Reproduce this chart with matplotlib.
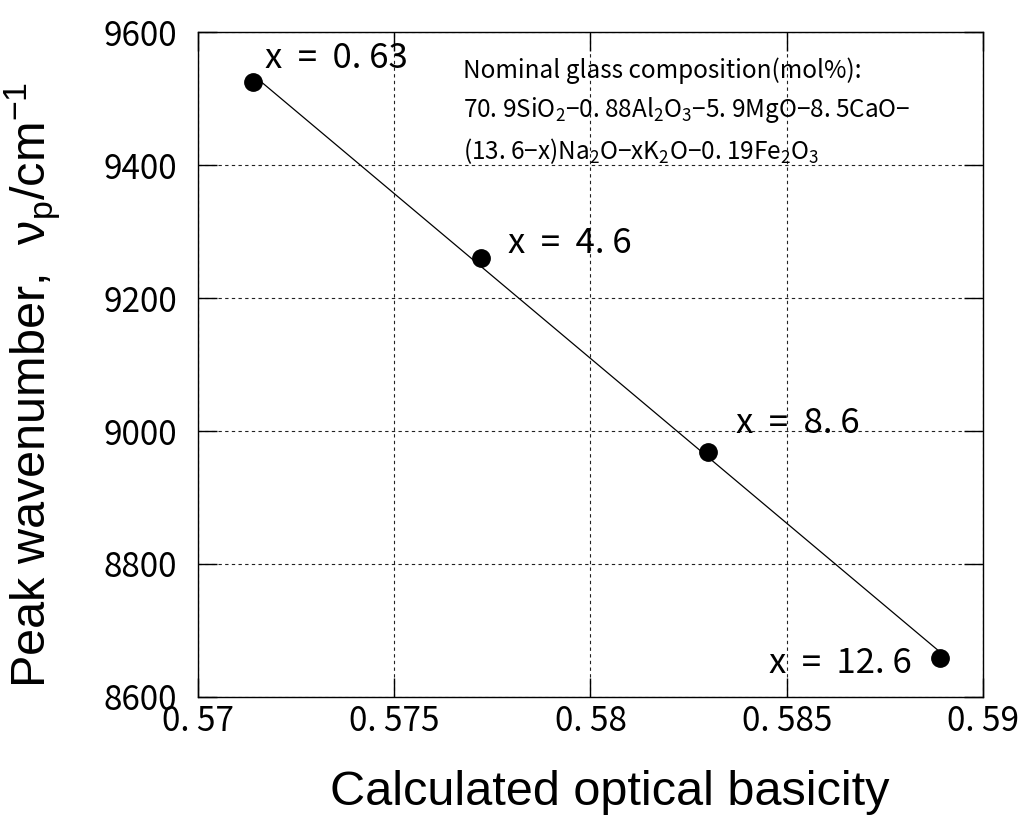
import numpy as np
import matplotlib.pyplot as plt

# data
basicity = np.array([0.5714, 0.5772, 0.5830, 0.5889])
wavenumber = np.array([9525, 9260, 8968, 8659])
k2o = ["0. 63", "4. 6", "8. 6", "12. 6"]

x_ticks = [0.57, 0.575, 0.58, 0.585, 0.59]
x_tick_labels = ["0. 57", "0. 575", "0. 58", "0. 585", "0. 59"]
y_ticks = [8600, 8800, 9000, 9200, 9400, 9600]

GOTHIC = ["Noto Sans CJK JP", "DejaVu Sans"]
REGULAR = ["Liberation Sans", "Noto Sans CJK JP", "DejaVu Sans"]
plt.rcParams["font.family"] = GOTHIC

fig = plt.figure(figsize=(10.22, 8.17), dpi=100)
ax = fig.add_axes([0.1937, 0.1469, 0.7681, 0.8139])

# regression line through the points
coef = np.polyfit(basicity, wavenumber, 1)
xx = np.array([basicity.min(), basicity.max()])
ax.plot(xx, np.polyval(coef, xx), color="black", lw=0.9, zorder=3)
ax.plot(basicity, wavenumber, "o", color="black", ms=12.5, zorder=4)

# labels next to each point (offsets in pixels)
offsets = [(12, 14, "left"), (27, 5, "left"), (28, 19, "left"), (-28, -15, "right")]
for xv, yv, lab, (dx, dy, ha) in zip(basicity, wavenumber, k2o, offsets):
    ax.annotate("x  =  " + lab, (xv, yv), xytext=(dx, dy), textcoords="offset pixels",
                ha=ha, va="baseline", fontsize=25, zorder=5)

ax.text(0.3376, 0.962,
        "Nominal glass composition(mol%):\n"
        "70. 9SiO$\\mathregular{_2}$\u22120. 88Al$\\mathregular{_2}$O$\\mathregular{_3}$"
        "\u22125. 9MgO\u22128. 5CaO\u2212\n"
        "(13. 6\u2212x)Na$\\mathregular{_2}$O\u2212xK$\\mathregular{_2}$O"
        "\u22120. 19Fe$\\mathregular{_2}$O$\\mathregular{_3}$",
        transform=ax.transAxes, ha="left", va="top", fontsize=17.5, linespacing=1.5,
        zorder=5)

ax.set_xlim(0.57, 0.59)
ax.set_ylim(8600, 9600)
ax.set_xticks(x_ticks)
ax.set_xticklabels(x_tick_labels)
ax.set_yticks(y_ticks)
ax.set_yticklabels([str(t) for t in y_ticks])

ax.tick_params(direction="in", length=14, width=1, top=True, right=True,
               labelsize=24, color="black")
ax.tick_params(axis="x", pad=5)
ax.tick_params(axis="y", pad=15)

ax.grid(True, color="#222222", lw=0.8, ls=(0, (3, 3)))
for s in ax.spines.values():
    s.set_linewidth(1.0)
    s.set_color("black")

ax.set_xlabel("Calculated optical basicity", fontsize=35, family=REGULAR)
ax.xaxis.set_label_coords(0.525, -0.11)
ax.set_ylabel("Peak wavenumber,  \u03bd$\\mathregular{_p}$/cm$\\mathregular{^{-1}}$",
              fontsize=35, family=REGULAR)
ax.yaxis.set_label_coords(-0.172, 0.47)

fig.savefig("out.png", dpi=100)
